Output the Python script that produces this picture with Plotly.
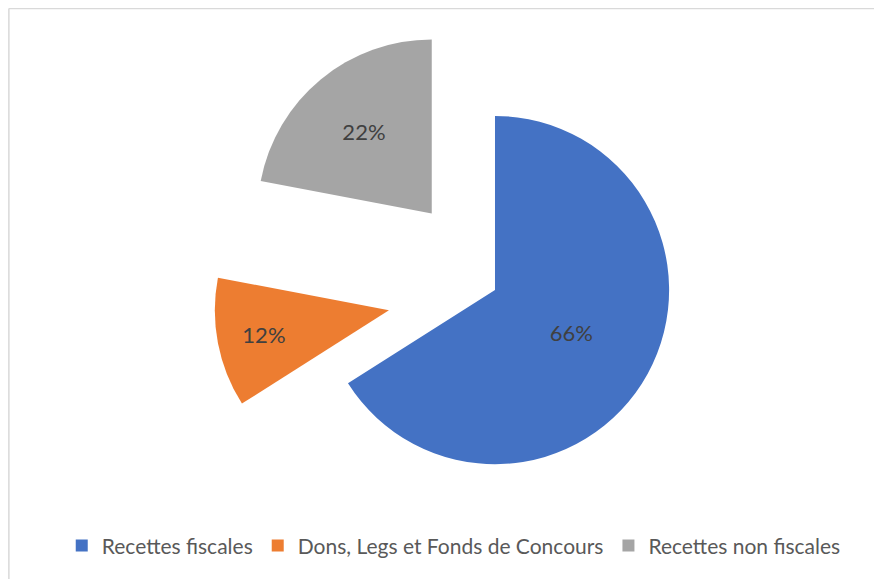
import plotly.graph_objects as go

labels = ["Recettes fiscales", "Dons, Legs et Fonds de Concours", "Recettes non fiscales"]
values = [66, 12, 22]
colors = ["#4472C4", "#ED7D31", "#A5A5A5"]
pulls = [0, 0.62, 0.57]  # exploded slices, as in the original

# the page body has an 8px margin, so the figure is sized to fit the window from there
W, H = 874, 571

fig = go.Figure(go.Pie(
    labels=labels, values=values, pull=pulls,
    sort=False, direction="clockwise", rotation=0,
    marker=dict(colors=colors, line=dict(width=0)),
    texttemplate="%{percent:.0%}", textposition="inside",
    insidetextorientation="horizontal",
    textfont=dict(family="Lato", size=22, color="#404040"),
    domain=dict(x=[0.2, 0.9144], y=[0.012, 1]),
    hoverinfo="label+percent",
))

# light frame, only top and left edges are visible in the crop
fig.add_shape(type="line", xref="paper", yref="paper", x0=0.001, x1=1, y0=0.999, y1=0.999,
              line=dict(color="#D9D9D9", width=1.5))
fig.add_shape(type="line", xref="paper", yref="paper", x0=0.001, x1=0.001, y0=0, y1=0.999,
              line=dict(color="#D9D9D9", width=1.5))

fig.update_layout(
    width=W, height=H,
    margin=dict(l=0, r=0, t=0, b=0, autoexpand=False),
    paper_bgcolor="white", plot_bgcolor="white",
    showlegend=True,
    legend=dict(orientation="h", x=0.51, xanchor="center", y=0.058, yanchor="middle",
                font=dict(family="Lato", size=21, color="#595959"),
                itemwidth=30, traceorder="normal"),
)

fig.write_html("out.html")
